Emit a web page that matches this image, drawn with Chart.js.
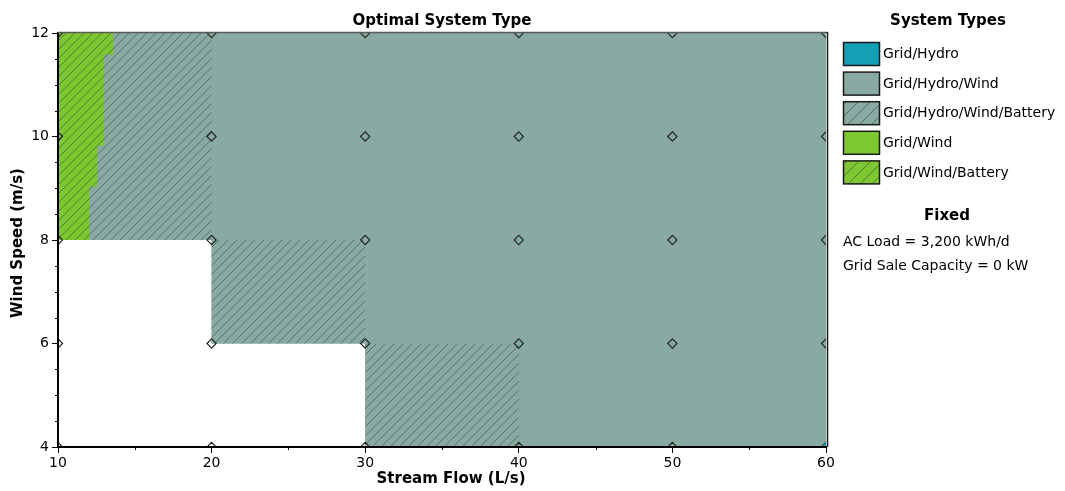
<!DOCTYPE html>
<html>
<head>
<meta charset="utf-8">
<title>Optimal System Type</title>
<script src="https://cdn.jsdelivr.net/npm/chart.js@4/dist/chart.umd.min.js"></script>
<style>
  html, body { margin: 0; padding: 0; background: #ffffff; }
  #wrap { width: 1065px; height: 491px; }
</style>
</head>
<body>
<div id="wrap"><canvas id="chart" width="1065" height="491"></canvas></div>
<script>
// Sensitivity cases (tick positions)
const streamFlow = [10, 20, 30, 40, 50, 60];   // L/s
const windSpeed = [4, 6, 8, 10, 12];           // m/s

// System types shown in the legend
const systemTypes = ['Grid/Hydro', 'Grid/Hydro/Wind', 'Grid/Hydro/Wind/Battery', 'Grid/Wind', 'Grid/Wind/Battery'];
const typeColors = ['#139fb4', '#88aaa2', '#88aaa2', '#7dc832', '#7dc832'];
const typeHatched = [false, false, true, false, true];

// Fixed inputs
const fixedInputs = ['AC Load = 3,200 kWh/d', 'Grid Sale Capacity = 0 kW'];

// Region outlines (stream flow, wind speed)
// Grid/Hydro/Wind: every feasible case, other regions are laid over it
const hydroWindFlow = [10, 20, 20, 30, 30, 60, 60, 10];
const hydroWindWind = [8, 8, 6, 6, 4, 4, 12, 12];
// Grid/Hydro/Wind/Battery
const hydroWindBattFlow = [10, 10, 20, 20, 30, 30, 40, 40, 30, 30, 20, 20];
const hydroWindBattWind = [12, 8, 8, 6, 6, 4, 4, 6, 6, 8, 8, 12];
// Grid/Wind/Battery
const windBattFlow = [10, 12.02, 12.02, 12.54, 12.54, 13.0, 13.0, 13.58, 13.58, 10];
const windBattWind = [8, 8, 9.03, 9.03, 9.82, 9.82, 11.58, 11.58, 12, 12];
// Grid/Hydro
const hydroFlow = [59.7, 60, 60];
const hydroWind = [4, 4, 4.09];

const FONT = 'DejaVu Sans';
Chart.defaults.font.family = FONT;
Chart.defaults.color = '#000';

// diagonal hatch over a base colour
function hatch(base, s) {
  const c = document.createElement('canvas');
  c.width = s; c.height = s;
  const g = c.getContext('2d');
  g.fillStyle = base;
  g.fillRect(0, 0, s, s);
  g.strokeStyle = 'rgba(20,35,30,0.42)';
  g.lineWidth = 1;
  g.beginPath();
  g.moveTo(0, s); g.lineTo(s, 0);
  g.moveTo(-1, 1); g.lineTo(1, -1);
  g.moveTo(s - 1, s + 1); g.lineTo(s + 1, s - 1);
  g.stroke();
  return g.createPattern(c, 'repeat');
}

const typeFills = typeColors.map((c, i) => typeHatched[i] ? hatch(c, 9) : c);
const legendFills = typeColors.map((c, i) => typeHatched[i] ? hatch(c, 12) : c);

function pts(xs, ys) { return xs.map((v, i) => ({x: v, y: ys[i]})); }

function region(label, xs, ys, fill, order) {
  return {
    label, data: pts(xs, ys), order,
    backgroundColor: fill, borderColor: 'rgba(0,0,0,0)', borderWidth: 0,
    pointRadius: 0, tension: 0, fill: 'shape', clip: 0
  };
}

const markers = [];
streamFlow.forEach(f => windSpeed.forEach(w => markers.push({x: f, y: w})));

const extras = {
  id: 'extras',
  afterDraw(chart) {
    const {ctx, chartArea: a, scales: {x, y}} = chart;
    ctx.save();
    // minor ticks
    ctx.strokeStyle = '#000';
    ctx.lineWidth = 1;
    ctx.beginPath();
    for (let i = 0; i < streamFlow.length - 1; i++) {
      const px = Math.round(x.getPixelForValue((streamFlow[i] + streamFlow[i + 1]) / 2)) + 0.5;
      ctx.moveTo(px, a.bottom); ctx.lineTo(px, a.bottom + 3);
    }
    for (let i = 0; i < windSpeed.length - 1; i++) {
      for (let k = 1; k < 4; k++) {
        const v = windSpeed[i] + (windSpeed[i + 1] - windSpeed[i]) * k / 4;
        const py = Math.round(y.getPixelForValue(v)) + 0.5;
        ctx.moveTo(a.left - 3, py); ctx.lineTo(a.left, py);
      }
    }
    ctx.stroke();
    // frame: top and right
    ctx.strokeStyle = '#5a5a5a';
    ctx.lineWidth = 1.5;
    ctx.beginPath();
    ctx.moveTo(a.left, a.top - 0.5); ctx.lineTo(a.right + 2, a.top - 0.5);
    ctx.stroke();
    ctx.strokeStyle = '#1a1a1a';
    ctx.beginPath();
    ctx.moveTo(a.right + 1.5, a.top - 1); ctx.lineTo(a.right + 1.5, a.bottom);
    ctx.stroke();

    // axis titles
    ctx.fillStyle = '#000';
    ctx.font = 'bold 15px "' + FONT + '"';
    ctx.textAlign = 'center';
    ctx.textBaseline = 'middle';
    ctx.fillText('Stream Flow (L/s)', 451, 479);
    ctx.save();
    ctx.translate(18, (a.top + a.bottom) / 2 + 3);
    ctx.rotate(-Math.PI / 2);
    ctx.fillText('Wind Speed (m/s)', 0, 0);
    ctx.restore();

    // legend
    const lx = 843.5;
    ctx.fillText('System Types', 948, 21);
    ctx.font = '14px "' + FONT + '"';
    ctx.textAlign = 'left';
    systemTypes.forEach((name, i) => {
      const by = 42.5 + i * 29.6;
      ctx.fillStyle = legendFills[i];
      ctx.fillRect(lx, by, 36, 23);
      ctx.strokeStyle = '#1a1a1a';
      ctx.lineWidth = 1.5;
      ctx.strokeRect(lx, by, 36, 23);
      ctx.fillStyle = '#000';
      ctx.fillText(name, 883, by + 12);
    });
    ctx.font = 'bold 15px "' + FONT + '"';
    ctx.textAlign = 'center';
    ctx.fillText('Fixed', 947, 216);
    ctx.font = '14px "' + FONT + '"';
    ctx.textAlign = 'left';
    fixedInputs.forEach((t, i) => ctx.fillText(t, 843, 242 + i * 24));
    ctx.restore();
  }
};

new Chart(document.getElementById('chart'), {
  type: 'line',
  data: {
    datasets: [
      region(systemTypes[0], hydroFlow, hydroWind, typeFills[0], 0),
      {
        label: 'Cases', data: markers, order: 1, showLine: false, clip: 0,
        pointStyle: 'rectRot', pointRadius: 4.6, pointBorderWidth: 1.1,
        pointBorderColor: '#222', pointBackgroundColor: 'rgba(0,0,0,0)'
      },
      region(systemTypes[4], windBattFlow, windBattWind, typeFills[4], 2),
      region(systemTypes[2], hydroWindBattFlow, hydroWindBattWind, typeFills[2], 3),
      region(systemTypes[1], hydroWindFlow, hydroWindWind, typeFills[1], 4)
    ]
  },
  options: {
    responsive: false,
    animation: false,
    events: [],
    layout: { padding: { left: 0, right: 239, top: 0, bottom: 0 } },
    plugins: {
      legend: { display: false },
      tooltip: { enabled: false },
      title: {
        display: true, text: 'Optimal System Type', fullSize: false,
        font: { size: 15, weight: 'bold' }, color: '#000',
        padding: { top: 12, bottom: 3 }
      }
    },
    scales: {
      x: {
        type: 'linear', position: 'bottom', min: 10, max: 60,
        afterBuildTicks: s => { s.ticks = streamFlow.map(v => ({value: v})); },
        afterFit: s => { s.height = 44; },
        ticks: { color: '#000', font: { size: 14 }, padding: 2, maxRotation: 0, autoSkip: false },
        grid: { drawOnChartArea: false, tickLength: 6, tickColor: '#000', tickWidth: 1 },
        border: { color: '#000', width: 2, z: 1 }
      },
      y: {
        type: 'linear', position: 'left', min: 4, max: 12,
        afterBuildTicks: s => { s.ticks = windSpeed.map(v => ({value: v})); },
        afterFit: s => { s.width = 58; },
        ticks: { color: '#000', font: { size: 14 }, padding: 3, autoSkip: false },
        grid: { drawOnChartArea: false, tickLength: 6, tickColor: '#000', tickWidth: 1 },
        border: { color: '#000', width: 2, z: 1 }
      }
    }
  },
  plugins: [extras]
});
</script>
</body>
</html>
